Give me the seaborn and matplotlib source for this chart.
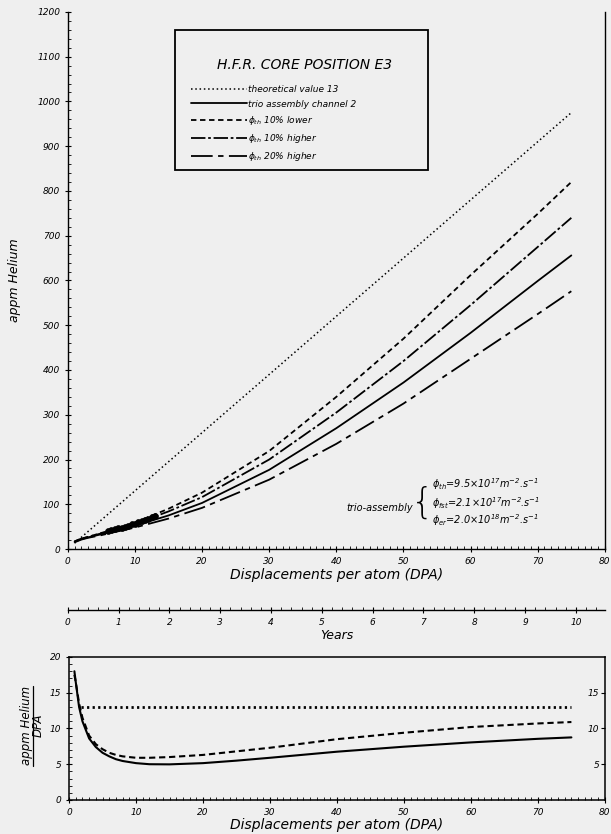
import matplotlib
matplotlib.use("Agg")
import matplotlib.pyplot as plt
from matplotlib.patches import Rectangle
from matplotlib.lines import Line2D
from matplotlib.ticker import MultipleLocator
import seaborn as sns

# main panel: appm He versus DPA
dpa = [1, 2, 3, 5, 7, 10, 15, 20, 30, 40, 50, 60, 70, 75]
he_trio = [16, 22, 26, 33, 40, 52, 75, 103, 177, 270, 372, 483, 599, 656]
he_10_lower = [17, 23, 27, 36, 44, 59, 90, 126, 219, 340, 470, 612, 749, 820]
he_10_higher = [17, 23, 27, 35, 43, 56, 84, 116, 200, 305, 420, 545, 675, 740]
he_20_higher = [15, 21, 25, 31, 38, 48, 68, 92, 155, 235, 325, 425, 525, 576]
theory_dpa = [1, 75]
theory_he = [13, 975]

# measured points near the origin
pts_dpa = [6, 6.5, 7, 7.5, 8, 8.5, 9, 9.5, 10, 10.5, 11, 11.5, 12, 12.5, 13]
pts_he = [40, 42, 44, 46, 48, 50, 52, 55, 57, 60, 62, 65, 68, 71, 74]

# lower panel: appm He / DPA
ratio_dpa = [0.8, 1, 1.5, 2, 3, 4, 5, 6, 7, 8, 10, 12, 15, 20, 25, 30, 40, 50, 60, 70, 75]
ratio_trio = [18, 16.5, 13, 11, 8.6, 7.4, 6.6, 6.1, 5.7, 5.45, 5.15, 5.0, 4.98, 5.15, 5.5, 5.9,
              6.75, 7.45, 8.05, 8.55, 8.75]
ratio_10_lower = [17.5, 16.5, 13.5, 11.5, 9.0, 7.8, 7.1, 6.6, 6.3, 6.1, 5.9, 5.9, 6.0, 6.3, 6.8,
                  7.3, 8.5, 9.4, 10.2, 10.7, 10.9]
ratio_theory_dpa = [1.8, 75]
ratio_theory = [13, 13]

legend_labels = ["theoretical value 13", "trio assembly channel 2",
                 r"$\phi_{th}$ 10% lower", r"$\phi_{th}$ 10% higher", r"$\phi_{th}$ 20% higher"]
year_ticks = list(range(0, 11))

sns.set_theme(style="ticks")
plt.rcParams['font.family'] = ['DejaVu Sans']
plt.rcParams['font.style'] = 'italic'
plt.rcParams['mathtext.fontset'] = 'custom'
plt.rcParams['mathtext.rm'] = 'DejaVu Sans:italic'
plt.rcParams['mathtext.it'] = 'DejaVu Sans:italic'
for key in ['text.color', 'axes.labelcolor', 'xtick.color', 'ytick.color']:
    plt.rcParams[key] = 'black'

bg = '#efefef'
fig = plt.figure(figsize=(6.11, 8.34), dpi=100, facecolor=bg)

ax = fig.add_axes([0.111, 0.3417, 0.879, 0.644], facecolor=bg)

styles = [
    (theory_dpa, theory_he, (1, 1.8), 1.1),
    (dpa, he_trio, None, 1.3),
    (dpa, he_10_lower, (3, 2), 1.3),
    (dpa, he_10_higher, (8, 1.5, 1.5, 1.5), 1.3),
    (dpa, he_20_higher, (12, 3, 3, 3), 1.3),
]
handles = []
for x, y, dash, lw in styles:
    sns.lineplot(x=x, y=y, ax=ax, color='black', lw=lw)
    line = ax.lines[-1]
    if dash is not None:
        line.set_dashes(dash)
    handles.append(line)

sns.scatterplot(x=pts_dpa, y=pts_he, ax=ax, color='black', s=18, edgecolor='black', linewidth=0.5)

ax.set_xlim(0, 80)
ax.set_ylim(0, 1200)
ax.xaxis.set_major_locator(MultipleLocator(10))
ax.xaxis.set_minor_locator(MultipleLocator(1))
ax.yaxis.set_major_locator(MultipleLocator(100))
ax.yaxis.set_minor_locator(MultipleLocator(20))
ax.tick_params(which='major', direction='inout', length=5, width=0.8, labelsize=6.5, pad=3)
ax.tick_params(which='minor', direction='in', length=2, width=0.6)
ax.spines['top'].set_visible(False)
for s in ['left', 'bottom', 'right']:
    ax.spines[s].set_linewidth(1.0)
    ax.spines[s].set_color('black')
ax.set_xlabel("Displacements per atom (DPA)", fontsize=10, labelpad=2)
ax.set_ylabel("appm Helium", fontsize=9, labelpad=12)

# legend box
ax.add_patch(Rectangle((0.2, 0.705), 0.47, 0.262, transform=ax.transAxes,
                       fill=False, edgecolor='black', lw=1.3))
ax.text(0.44, 0.901, "H.F.R. CORE POSITION E3", transform=ax.transAxes,
        ha='center', va='center', fontsize=10)
ax.legend(handles, legend_labels, loc='upper left', bbox_to_anchor=(0.222, 0.87),
          frameon=False, fontsize=6.5, handlelength=6.2, handletextpad=0.2,
          labelspacing=0.58, borderaxespad=0)

# trio-assembly flux annotation
ax.text(0.643, 0.076, "trio-assembly", transform=ax.transAxes, ha='right', va='center', fontsize=7)
ax.text(0.66, 0.086, "{", transform=ax.transAxes, ha='center', va='center',
        fontsize=26, fontstyle='normal', fontweight='light')
ax.text(0.678, 0.12, r"$\phi_{th}$=9.5×10$^{17}$m$^{-2}$.s$^{-1}$", transform=ax.transAxes,
        ha='left', va='center', fontsize=7)
ax.text(0.678, 0.086, r"$\phi_{fst}$=2.1×10$^{17}$m$^{-2}$.s$^{-1}$", transform=ax.transAxes,
        ha='left', va='center', fontsize=7)
ax.text(0.678, 0.054, r"$\phi_{er}$=2.0×10$^{18}$m$^{-2}$.s$^{-1}$", transform=ax.transAxes,
        ha='left', va='center', fontsize=7)

# years axis
ay = fig.add_axes([0.111, 0.2686, 0.879, 0.0001], facecolor='none')
ay.set_xlim(0, 10.57)
ay.set_yticks([])
ay.set_xticks(year_ticks)
ay.xaxis.set_minor_locator(MultipleLocator(0.2))
for s in ['left', 'right', 'top']:
    ay.spines[s].set_visible(False)
ay.spines['bottom'].set_linewidth(1.0)
ay.spines['bottom'].set_color('black')
ay.tick_params(which='major', direction='inout', length=5, width=0.8, labelsize=6.5, pad=3)
ay.tick_params(which='minor', direction='in', length=2, width=0.6)
ay.set_xlabel("Years", fontsize=9, labelpad=2)

# lower panel
ab = fig.add_axes([0.113, 0.0408, 0.877, 0.1715], facecolor=bg)
sns.lineplot(x=ratio_theory_dpa, y=ratio_theory, ax=ab, color='black', lw=2.0)
ab.lines[-1].set_dashes((0.8, 1.2))
sns.lineplot(x=ratio_dpa, y=ratio_10_lower, ax=ab, color='black', lw=1.5)
ab.lines[-1].set_dashes((3, 1.8))
sns.lineplot(x=ratio_dpa, y=ratio_trio, ax=ab, color='black', lw=1.5)
ab.set_xlim(0, 80)
ab.set_ylim(0, 20)
ab.xaxis.set_major_locator(MultipleLocator(10))
ab.xaxis.set_minor_locator(MultipleLocator(1))
ab.yaxis.set_major_locator(MultipleLocator(5))
ab.yaxis.set_minor_locator(MultipleLocator(1))
ab.tick_params(which='major', direction='inout', length=5, width=0.8, labelsize=6.5, pad=3)
ab.tick_params(which='minor', direction='in', length=2, width=0.6)
for s in ab.spines.values():
    s.set_linewidth(1.1)
    s.set_color('black')
ab.set_xlabel("Displacements per atom (DPA)", fontsize=10, labelpad=1)

# fraction-style y label: appm Helium over DPA
ab.text(-0.08, 0.52, "appm Helium", transform=ab.transAxes, rotation=90,
        ha='center', va='center', fontsize=8.5)
ab.text(-0.057, 0.52, "DPA", transform=ab.transAxes, rotation=90,
        ha='center', va='center', fontsize=8.5)
ab.add_line(Line2D([-0.067, -0.067], [0.24, 0.8], transform=ab.transAxes,
                   color='black', lw=0.9, clip_on=False))

ar = ab.twinx()
ar.set_ylim(0, 20)
ar.set_yticks([5, 10, 15])
ar.tick_params(axis='y', direction='in', length=3, width=0.8, labelsize=6.5, pad=-4)
for lab in ar.get_yticklabels():
    lab.set_horizontalalignment('right')
for s in ar.spines.values():
    s.set_visible(False)

fig.savefig("out.png", dpi=100, facecolor=bg)
